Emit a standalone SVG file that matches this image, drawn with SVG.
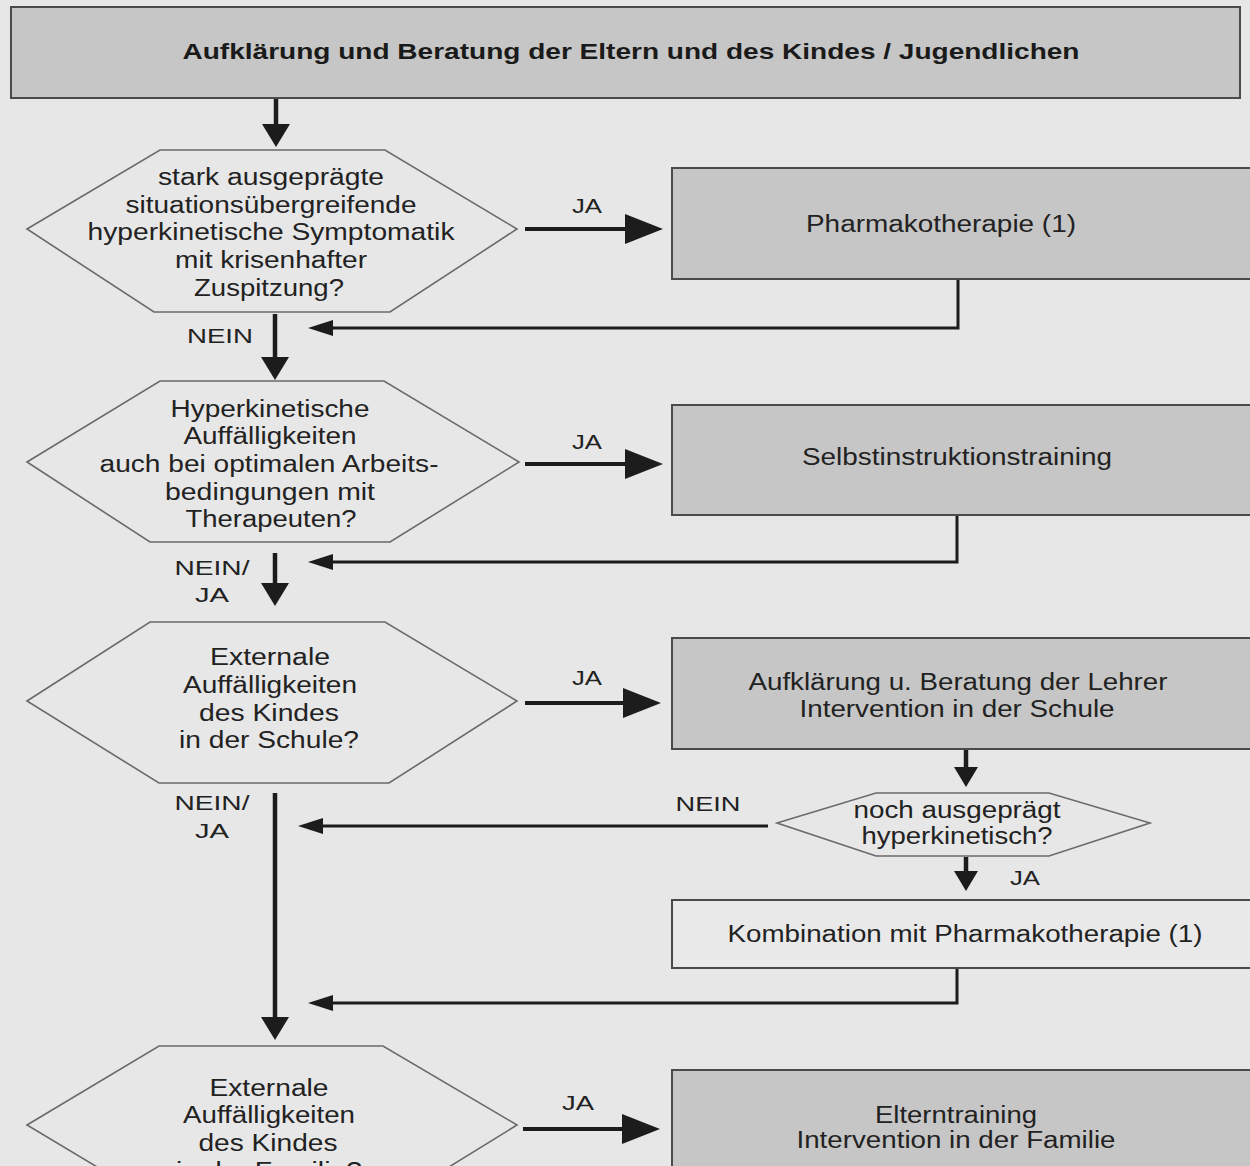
<svg xmlns="http://www.w3.org/2000/svg" width="1250" height="1166" viewBox="0 0 1250 1166">
  <style>
    .bg { fill: #e7e7e7; }
    .box { fill: #c6c6c6; stroke: #4a4a4a; stroke-width: 2; }
    .box-light { fill: #e9e9e9; stroke: #4a4a4a; stroke-width: 2; }
    .hex { fill: none; stroke: #6a6a6a; stroke-width: 1.6; }
    text { font-family: "Liberation Sans", Arial, sans-serif; font-size: 23px; fill: #222222; text-anchor: middle; }
    .title { font-weight: bold; font-size: 22px; fill: #1a1a1a; }
    .lbl { font-size: 21px; }
    .flow { fill: none; stroke: #1c1c1c; stroke-width: 4.5; }
    .yes { fill: none; stroke: #1c1c1c; stroke-width: 4; }
    .back { fill: none; stroke: #1c1c1c; stroke-width: 3; }
  </style>
  <defs>
    <marker id="ah-down" markerUnits="userSpaceOnUse" markerWidth="23" markerHeight="28" refX="1" refY="14" orient="auto">
      <path d="M0,0 L23,14 L0,28 z" fill="#1c1c1c"/>
    </marker>
    <marker id="ah-down-s" markerUnits="userSpaceOnUse" markerWidth="20" markerHeight="24" refX="1" refY="12" orient="auto">
      <path d="M0,0 L20,12 L0,24 z" fill="#1c1c1c"/>
    </marker>
    <marker id="ah-yes" markerUnits="userSpaceOnUse" markerWidth="38" markerHeight="30" refX="1" refY="15" orient="auto">
      <path d="M0,0 L38,15 L0,30 z" fill="#1c1c1c"/>
    </marker>
    <marker id="ah-back" markerUnits="userSpaceOnUse" markerWidth="25" markerHeight="16" refX="1" refY="8" orient="auto">
      <path d="M0,0 L25,8 L0,16 z" fill="#1c1c1c"/>
    </marker>
  </defs>

  <rect class="bg" x="0" y="0" width="1250" height="1166"/>

  <!-- connectors -->
  <g id="connectors">
    <!-- main flow downwards -->
    <line class="flow" x1="276" y1="99" x2="276" y2="125" marker-end="url(#ah-down)"/>
    <line class="flow" x1="275" y1="314" x2="275" y2="358" marker-end="url(#ah-down)"/>
    <line class="flow" x1="275" y1="553" x2="275" y2="584" marker-end="url(#ah-down)"/>
    <line class="flow" x1="275" y1="793" x2="275" y2="1018" marker-end="url(#ah-down)"/>
    <!-- JA branches -->
    <line class="yes" x1="525" y1="229" x2="626" y2="229" marker-end="url(#ah-yes)"/>
    <line class="yes" x1="525" y1="464" x2="626" y2="464" marker-end="url(#ah-yes)"/>
    <line class="yes" x1="525" y1="703" x2="624" y2="703" marker-end="url(#ah-yes)"/>
    <line class="yes" x1="523" y1="1129" x2="623" y2="1129" marker-end="url(#ah-yes)"/>
    <!-- returns into the main column -->
    <polyline class="back" points="958,279 958,328 332,328" marker-end="url(#ah-back)"/>
    <polyline class="back" points="957,515 957,562 332,562" marker-end="url(#ah-back)"/>
    <line class="back" x1="768" y1="826" x2="322" y2="826" marker-end="url(#ah-back)"/>
    <polyline class="back" points="957,968 957,1003 332,1003" marker-end="url(#ah-back)"/>
    <!-- school branch -->
    <line class="flow" x1="966" y1="750" x2="966" y2="768" marker-end="url(#ah-down-s)"/>
    <line class="flow" x1="966" y1="857" x2="966" y2="872" marker-end="url(#ah-down-s)"/>
  </g>

  <!-- edge labels -->
  <g id="edge-labels">
    <text class="lbl" x="587" y="213" textLength="30" lengthAdjust="spacingAndGlyphs">JA</text>
    <text class="lbl" x="220" y="343" textLength="66" lengthAdjust="spacingAndGlyphs">NEIN</text>
    <text class="lbl" x="587" y="449" textLength="30" lengthAdjust="spacingAndGlyphs">JA</text>
    <text class="lbl" x="212" y="575" textLength="75" lengthAdjust="spacingAndGlyphs">NEIN/</text>
    <text class="lbl" x="212" y="602" textLength="34" lengthAdjust="spacingAndGlyphs">JA</text>
    <text class="lbl" x="587" y="685" textLength="30" lengthAdjust="spacingAndGlyphs">JA</text>
    <text class="lbl" x="212" y="810" textLength="75" lengthAdjust="spacingAndGlyphs">NEIN/</text>
    <text class="lbl" x="212" y="838" textLength="34" lengthAdjust="spacingAndGlyphs">JA</text>
    <text class="lbl" x="708" y="811" textLength="65" lengthAdjust="spacingAndGlyphs">NEIN</text>
    <text class="lbl" x="1025" y="885" textLength="30" lengthAdjust="spacingAndGlyphs">JA</text>
    <text class="lbl" x="578" y="1110" textLength="32" lengthAdjust="spacingAndGlyphs">JA</text>
  </g>

  <g id="n-aufklaerung-eltern">
    <rect class="box" x="11" y="7" width="1229" height="91"/>
    <text class="title" x="631" y="59" textLength="897" lengthAdjust="spacingAndGlyphs">Aufklärung und Beratung der Eltern und des Kindes / Jugendlichen</text>
  </g>

  <g id="n-frage-krise">
    <polygon class="hex" points="27,229 160,150 385,150 517,229 390,312 154,312"/>
    <text x="271" y="185" textLength="226" lengthAdjust="spacingAndGlyphs">stark ausgeprägte</text>
    <text x="271" y="213" textLength="291" lengthAdjust="spacingAndGlyphs">situationsübergreifende</text>
    <text x="271" y="240" textLength="367" lengthAdjust="spacingAndGlyphs">hyperkinetische Symptomatik</text>
    <text x="271" y="268" textLength="192" lengthAdjust="spacingAndGlyphs">mit krisenhafter</text>
    <text x="269" y="296" textLength="150" lengthAdjust="spacingAndGlyphs">Zuspitzung?</text>
  </g>

  <g id="n-pharmako">
    <rect class="box" x="672" y="168" width="600" height="111"/>
    <text x="941" y="232" textLength="270" lengthAdjust="spacingAndGlyphs">Pharmakotherapie (1)</text>
  </g>

  <g id="n-frage-arbeit">
    <polygon class="hex" points="27,462 160,381 384,381 519,462 390,542 150,542"/>
    <text x="270" y="417" textLength="199" lengthAdjust="spacingAndGlyphs">Hyperkinetische</text>
    <text x="270" y="444" textLength="173" lengthAdjust="spacingAndGlyphs">Auffälligkeiten</text>
    <text x="269" y="472" textLength="339" lengthAdjust="spacingAndGlyphs">auch bei optimalen Arbeits-</text>
    <text x="270" y="500" textLength="210" lengthAdjust="spacingAndGlyphs">bedingungen mit</text>
    <text x="271" y="527" textLength="171" lengthAdjust="spacingAndGlyphs">Therapeuten?</text>
  </g>

  <g id="n-selbstinstruktion">
    <rect class="box" x="672" y="405" width="600" height="110"/>
    <text x="957" y="465" textLength="310" lengthAdjust="spacingAndGlyphs">Selbstinstruktionstraining</text>
  </g>

  <g id="n-frage-schule">
    <polygon class="hex" points="27,701 150,622 385,622 517,701 389,783 159,783"/>
    <text x="270" y="665" textLength="120" lengthAdjust="spacingAndGlyphs">Externale</text>
    <text x="270" y="693" textLength="174" lengthAdjust="spacingAndGlyphs">Auffälligkeiten</text>
    <text x="269" y="721" textLength="140" lengthAdjust="spacingAndGlyphs">des Kindes</text>
    <text x="269" y="748" textLength="180" lengthAdjust="spacingAndGlyphs">in der Schule?</text>
  </g>

  <g id="n-lehrer">
    <rect class="box" x="672" y="638" width="600" height="111"/>
    <text x="958" y="690" textLength="419" lengthAdjust="spacingAndGlyphs">Aufklärung u. Beratung der Lehrer</text>
    <text x="957" y="717" textLength="315" lengthAdjust="spacingAndGlyphs">Intervention in der Schule</text>
  </g>

  <g id="n-frage-hyperkinetisch">
    <polygon class="hex" points="777,823 876,793 1049,793 1150,823 1049,856 876,856"/>
    <text x="957" y="818" textLength="207" lengthAdjust="spacingAndGlyphs">noch ausgeprägt</text>
    <text x="957" y="844" textLength="191" lengthAdjust="spacingAndGlyphs">hyperkinetisch?</text>
  </g>

  <g id="n-kombination">
    <rect class="box-light" x="672" y="900" width="600" height="68"/>
    <text x="965" y="942" textLength="475" lengthAdjust="spacingAndGlyphs">Kombination mit Pharmakotherapie (1)</text>
  </g>

  <g id="n-frage-familie">
    <polygon class="hex" points="27,1125 159,1046 383,1046 517,1125 389,1204 159,1204"/>
    <text x="269" y="1096" textLength="119" lengthAdjust="spacingAndGlyphs">Externale</text>
    <text x="269" y="1123" textLength="172" lengthAdjust="spacingAndGlyphs">Auffälligkeiten</text>
    <text x="268" y="1151" textLength="139" lengthAdjust="spacingAndGlyphs">des Kindes</text>
    <text x="269" y="1179" textLength="186" lengthAdjust="spacingAndGlyphs">in der Familie?</text>
  </g>

  <g id="n-elterntraining">
    <rect class="box" x="672" y="1070" width="600" height="130"/>
    <text x="956" y="1123" textLength="162" lengthAdjust="spacingAndGlyphs">Elterntraining</text>
    <text x="956" y="1148" textLength="319" lengthAdjust="spacingAndGlyphs">Intervention in der Familie</text>
  </g>
</svg>
